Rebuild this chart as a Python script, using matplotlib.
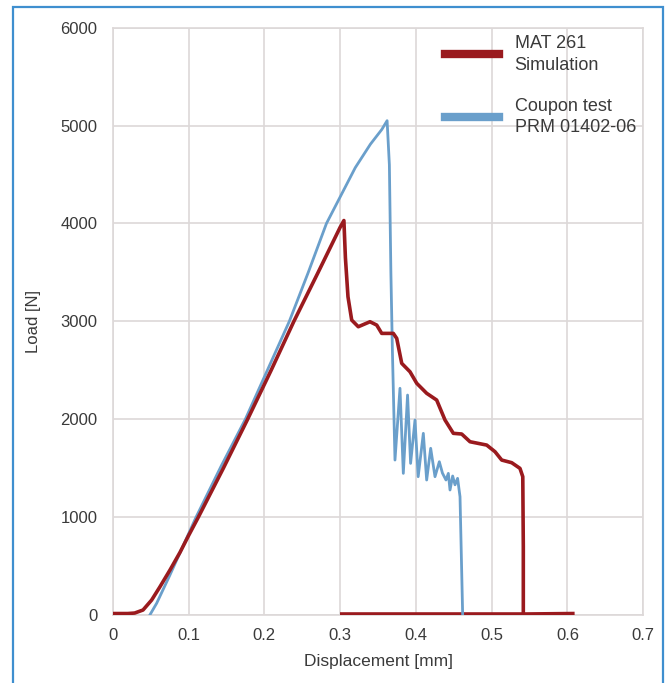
import matplotlib
matplotlib.use("Agg")
import matplotlib.pyplot as plt
from matplotlib.patches import Rectangle
import numpy as np

plt.rcParams['font.family'] = ['Liberation Sans', 'DejaVu Sans']

# --- Data ---
sim_x = [0.0, 0.020, 0.029, 0.040, 0.0514, 0.0624, 0.0756, 0.0888, 0.100, 0.113,
         0.146, 0.178, 0.209, 0.239, 0.271, 0.300, 0.305,
         0.307, 0.3104, 0.3153, 0.324, 0.3394, 0.3483, 0.3549, 0.3702, 0.3747,
         0.3813, 0.3922, 0.4011, 0.4142, 0.4274, 0.4384, 0.4494, 0.4604, 0.4714,
         0.4934, 0.5044, 0.5132, 0.5264, 0.5373, 0.541, 0.5417, 0.5417, 0.607]
sim_y = [15, 15, 20, 51, 153, 289, 460, 640, 810, 1000,
         1500, 2000, 2500, 3000, 3500, 3960, 4030,
         3650, 3251, 3013, 2945, 2996, 2962, 2877, 2877, 2826,
         2571, 2485, 2367, 2265, 2196, 1992, 1856, 1849, 1770,
         1736, 1668, 1583, 1556, 1498, 1413, 700, 10, 15]

# trailing baseline segment of the simulation (0.3 .. 0.54)
sim_base_x = [0.300, 0.5417]
sim_base_y = [10, 10]

test_x = [0.049, 0.058, 0.075, 0.110, 0.143, 0.175, 0.204, 0.233, 0.258, 0.282,
          0.300, 0.320, 0.340, 0.355, 0.362,
          0.365, 0.367, 0.369, 0.3724,
          0.379, 0.3834, 0.389, 0.393, 0.3988, 0.403, 0.4098, 0.4142, 0.4195,
          0.4252, 0.4309, 0.4350, 0.4397, 0.4428, 0.445, 0.4485, 0.4516, 0.4550,
          0.4582, 0.4617]
test_y = [0, 120, 400, 1000, 1520, 2000, 2500, 3000, 3500, 4000,
          4270, 4570, 4810, 4960, 5050,
          4600, 3500, 2700, 1583,
          2316, 1447, 2247, 1549, 1992, 1413, 1856, 1379, 1703,
          1413, 1566, 1450, 1379, 1447, 1277, 1420, 1330, 1396,
          1208, 0]

sim_label = "MAT 261\nSimulation"
test_label = "Coupon test\nPRM 01402-06"
x_ticks = [0, 0.1, 0.2, 0.3, 0.4, 0.5, 0.6, 0.7]
x_tick_labels = ["0", "0.1", "0.2", "0.3", "0.4", "0.5", "0.6", "0.7"]
y_ticks = [0, 1000, 2000, 3000, 4000, 5000, 6000]

red = "#9a1a1e"
blue = "#6a9fcb"
grid_c = "#ddd8d8"
text_c = "#3a3a3a"

fig = plt.figure(figsize=(6.72, 6.83), dpi=100)
ax = fig.add_axes([112.7/672, 1-615/683, (643.3-112.7)/672, (615-27.7)/683])

ax.plot(sim_base_x, sim_base_y, color=red, lw=2.6, solid_capstyle='butt', zorder=3)
ax.plot(test_x, test_y, color=blue, lw=2.0, label=test_label, zorder=3, solid_joinstyle='round')
ax.plot(sim_x, sim_y, color=red, lw=2.6, label=sim_label, zorder=4, solid_joinstyle='round')

ax.set_xlim(0, 0.7)
ax.set_ylim(0, 6000)
ax.set_xticks(x_ticks)
ax.set_xticklabels(x_tick_labels)
ax.set_yticks(y_ticks)
ax.grid(True, color=grid_c, lw=1.2, zorder=0)
ax.set_axisbelow(True)
for s in ax.spines.values():
    s.set_color(grid_c)
    s.set_linewidth(1.2)
ax.tick_params(length=0, labelsize=12, labelcolor=text_c)
ax.tick_params(axis='x', pad=9)
ax.tick_params(axis='y', pad=11)
ax.set_xlabel("Displacement [mm]", fontsize=12.5, color=text_c, labelpad=8)
ax.set_ylabel("Load [N]", fontsize=12, color=text_c, labelpad=14)

handles, labels = ax.get_legend_handles_labels()
order = [1, 0]
leg = fig.legend([handles[i] for i in order], [labels[i] for i in order],
                 loc='upper left', bbox_to_anchor=(445/672, 1-35/683),
                 frameon=False, fontsize=13, handlelength=3.0, handletextpad=0.85,
                 labelspacing=1.35, borderpad=0, borderaxespad=0)
for t in leg.get_texts():
    t.set_color(text_c)
    t.set_linespacing(1.35)
for lh in leg.legend_handles:
    lh.set_linewidth(6)

fig.patches.append(Rectangle((12.7/672, -0.05), (662.7-12.7)/672, 1.05-7.3/683,
                             transform=fig.transFigure, fill=False,
                             edgecolor="#3f8fcf", lw=1.6, clip_on=False))

fig.savefig("out.png", dpi=100)
